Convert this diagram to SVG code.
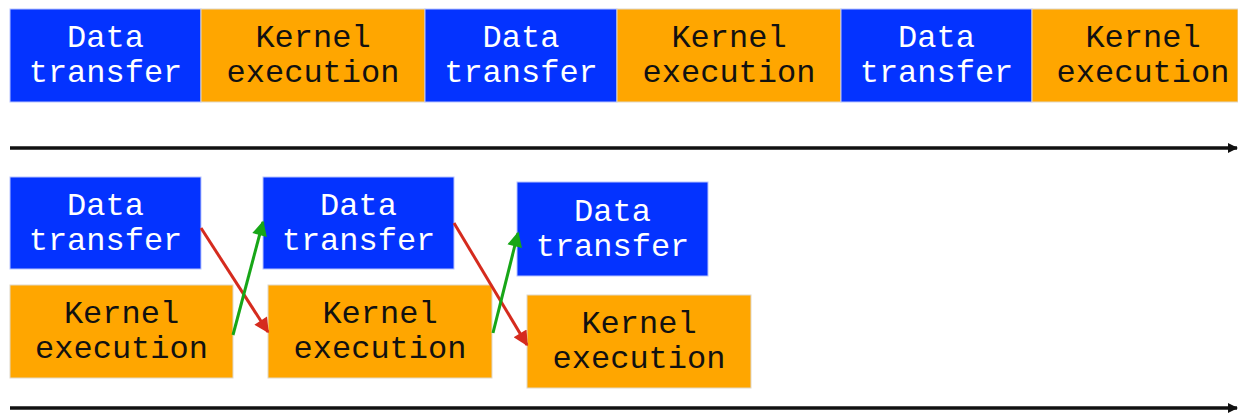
<svg xmlns="http://www.w3.org/2000/svg" width="1238" height="416" viewBox="0 0 1238 416">
<style>
.b{fill:#0433ff;stroke:#b8c4ff;stroke-width:1}
.o{fill:#ffa600;stroke:#e0d8c8;stroke-width:1}
.tw{fill:#ffffff;font-family:"Liberation Mono","Courier New",monospace;font-size:32px;text-anchor:middle}
.tk{fill:#111111;font-family:"Liberation Mono","Courier New",monospace;font-size:32px;text-anchor:middle}
.ax{stroke:#111;stroke-width:3.5;fill:none}
.r{stroke:#d52b1e;stroke-width:3;fill:none}
.g{stroke:#17a617;stroke-width:3;fill:none}
</style>
<defs>
<marker id="mk" viewBox="0 0 10 10" refX="9" refY="5" markerWidth="3" markerHeight="4" markerUnits="strokeWidth" orient="auto"><path d="M0,0L10,5L0,10z" fill="#111"/></marker>
<marker id="mr" viewBox="0 0 10 10" refX="9" refY="5" markerWidth="6" markerHeight="5" markerUnits="strokeWidth" orient="auto"><path d="M0,0L10,5L0,10z" fill="#d52b1e"/></marker>
<marker id="mg" viewBox="0 0 10 10" refX="9" refY="5" markerWidth="6" markerHeight="5" markerUnits="strokeWidth" orient="auto"><path d="M0,0L10,5L0,10z" fill="#17a617"/></marker>
</defs>
<g id="top-d1"><rect class="b" x="10" y="9" width="191" height="93"/><text class="tw" x="105.5" y="47">Data</text><text class="tw" x="105.5" y="82">transfer</text></g>
<g id="top-k1"><rect class="o" x="201" y="9" width="224" height="93"/><text class="tk" x="313" y="47">Kernel</text><text class="tk" x="313" y="82">execution</text></g>
<g id="top-d2"><rect class="b" x="425" y="9" width="192" height="93"/><text class="tw" x="521" y="47">Data</text><text class="tw" x="521" y="82">transfer</text></g>
<g id="top-k2"><rect class="o" x="617" y="9" width="224" height="93"/><text class="tk" x="729" y="47">Kernel</text><text class="tk" x="729" y="82">execution</text></g>
<g id="top-d3"><rect class="b" x="841" y="9" width="191" height="93"/><text class="tw" x="936.5" y="47">Data</text><text class="tw" x="936.5" y="82">transfer</text></g>
<g id="top-k3"><rect class="o" x="1032" y="9" width="206" height="93"/><text class="tk" x="1143" y="47">Kernel</text><text class="tk" x="1143" y="82">execution</text></g>

<g id="bot-d1"><rect class="b" x="10" y="177" width="191" height="92"/><text class="tw" x="105.5" y="215">Data</text><text class="tw" x="105.5" y="250">transfer</text></g>
<g id="bot-k1"><rect class="o" x="10" y="285" width="223" height="93"/><text class="tk" x="121.5" y="323">Kernel</text><text class="tk" x="121.5" y="358">execution</text></g>
<g id="bot-d2"><rect class="b" x="263" y="177" width="191" height="92"/><text class="tw" x="358.5" y="215">Data</text><text class="tw" x="358.5" y="250">transfer</text></g>
<g id="bot-k2"><rect class="o" x="268" y="285" width="224" height="93"/><text class="tk" x="380" y="323">Kernel</text><text class="tk" x="380" y="358">execution</text></g>
<g id="bot-d3"><rect class="b" x="517" y="182" width="191" height="94"/><text class="tw" x="612.5" y="221">Data</text><text class="tw" x="612.5" y="256">transfer</text></g>
<g id="bot-k3"><rect class="o" x="527" y="295" width="224" height="93"/><text class="tk" x="639" y="333">Kernel</text><text class="tk" x="639" y="368">execution</text></g>

<g id="connectors">
<line class="ax" x1="10" y1="148" x2="1237" y2="148" marker-end="url(#mk)"/>
<line class="ax" x1="10" y1="408" x2="1237" y2="408" marker-end="url(#mk)"/>
<line class="r" x1="201" y1="228" x2="268" y2="332" marker-end="url(#mr)"/>
<line class="g" x1="233" y1="335" x2="263" y2="222" marker-end="url(#mg)"/>
<line class="r" x1="454" y1="223" x2="527" y2="345" marker-end="url(#mr)"/>
<line class="g" x1="493" y1="333" x2="518" y2="233" marker-end="url(#mg)"/>
</g>
</svg>
